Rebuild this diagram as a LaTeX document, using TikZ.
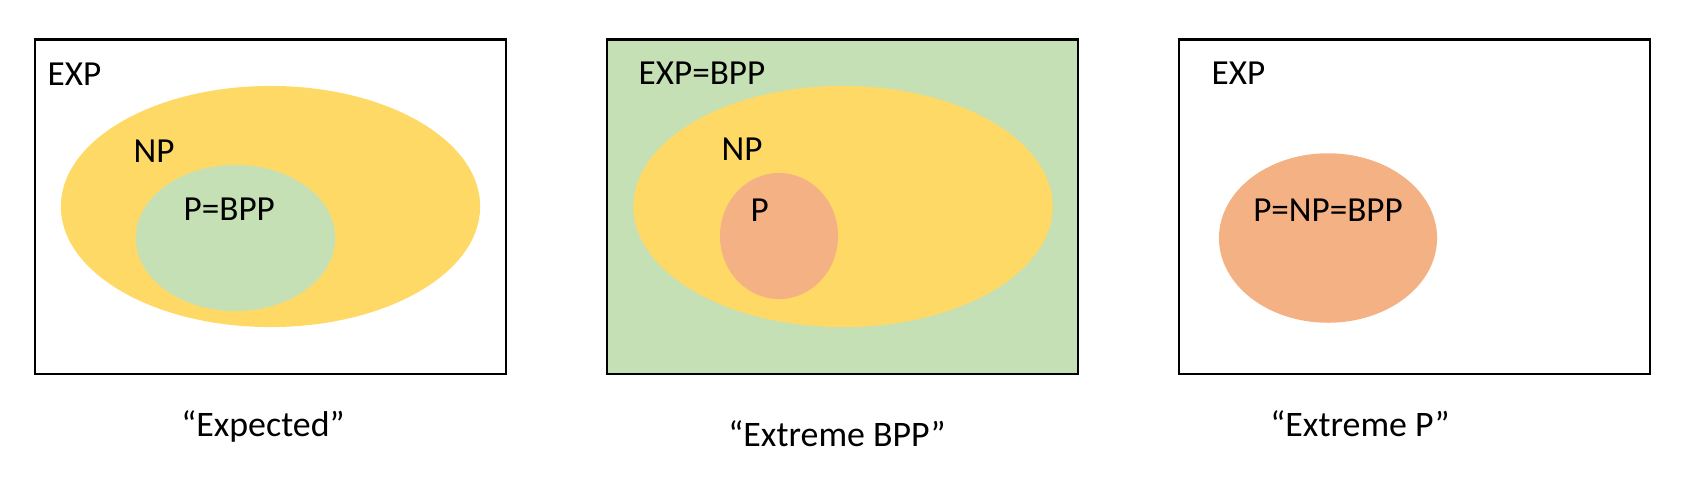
\documentclass[tikz,border=0pt]{standalone}
\usepackage{fontspec}
\setmainfont{Carlito}
\usetikzlibrary{shapes.geometric}
\usetikzlibrary{positioning}
\definecolor{npyellow}{HTML}{FFD966}
\definecolor{bppgreen}{HTML}{C5E0B4}
\definecolor{porange}{HTML}{F4B183}
\tikzset{world/.style={rectangle,draw=black,line width=0.7pt,minimum width=4.71cm,minimum height=3.345cm,inner sep=0pt}}
\tikzset{blob/.style={ellipse,draw=none,inner sep=0pt}}
\tikzset{lbl/.style={anchor=base west,inner sep=0pt,font=\fontsize{10}{12}\selectfont}}
\tikzset{verdict/.style={anchor=base,inner sep=0pt,font=\fontsize{10.2}{12}\selectfont}}

\begin{document}
\begin{tikzpicture}[x=0.01cm,y=-0.01cm]
\useasboundingbox (0,0) rectangle (1682,481);

% "Expected"
\node[world](W1) at (270.5, 206.75){};
\node[blob,fill=npyellow,minimum width=4.19cm,minimum height=2.41cm](NP1) at (270.5, 206.5){};
\node[blob,fill=bppgreen,minimum width=1.994cm,minimum height=1.46cm](P1) at (235.5, 238){};
\node[lbl](EXP1) at (47, 85){EXP};
\node[lbl](NPL1) at (133, 162){NP};
\node[lbl](PL1) at (183, 220.5){P=BPP};
\node[verdict](C1) at (263, 436){``Expected''};

% "Extreme BPP"
\node[world,fill=bppgreen](W2) at (842.5, 206.75){};
\node[blob,fill=npyellow,minimum width=4.19cm,minimum height=2.41cm](NP2) at (843, 206.5){};
\node[blob,fill=porange,minimum width=1.18cm,minimum height=1.26cm](P2) at (779, 236){};
\node[lbl](EXP2) at (638, 84){EXP=BPP};
\node[lbl](NPL2) at (721, 160){NP};
\node[lbl](PL2) at (750, 221.5){P};
\node[verdict](C2) at (837, 446.5){``Extreme BPP''};

% "Extreme P"
\node[world](W3) at (1414.5, 206.75){};
\node[blob,fill=porange,minimum width=2.18cm,minimum height=1.694cm](P3) at (1328, 238){};
\node[lbl](EXP3) at (1211, 84.3){EXP};
\node[lbl,anchor=base](PL3) at (1328, 221.5){P=NP=BPP};
\node[verdict](C3) at (1360, 436){``Extreme P''};

\end{tikzpicture}
\end{document}
